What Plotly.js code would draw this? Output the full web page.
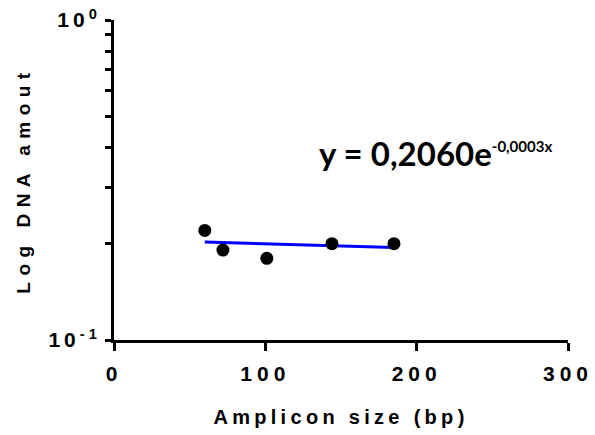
<!DOCTYPE html>
<html>
<head>
<meta charset="utf-8">
<script src="https://cdn.plot.ly/plotly-3.0.1.min.js"></script>
<style>
html,body{margin:0;padding:0;background:#fff;}
#chart{width:595px;height:435px;}
.xtitle{letter-spacing:4.3px !important;}
.ytitle{letter-spacing:6.5px !important;}
.xtick text{letter-spacing:5px !important;}
.ytick text{letter-spacing:4px !important;}
</style>
</head>
<body>
<div id="chart"></div>
<script>
// Data
const ampliconSize = [60, 72, 101, 144, 185];
const dnaAmount = [0.220, 0.191, 0.180, 0.200, 0.200];
const trendX = [60, 185];
const trendY = [0.2023, 0.1947];
const xTickVals = [0, 100, 200, 300];
const xTickText = ['0', '100', '200', '300'];
const yMajorVals = [0.1, 1];
const yMajorText = ['10<sup>-1</sup>', '10<sup>0</sup>'];
const yMinorVals = [0.2, 0.3, 0.4, 0.5, 0.6, 0.7, 0.8, 0.9];
const equationMain = 'y = 0,2060e';
const equationExp = '-0,0003x';

const font = 'Liberation Sans, Arial, sans-serif';

const traces = [
  {
    x: trendX, y: trendY, mode: 'lines', type: 'scatter',
    line: {color: '#0000ff', width: 3}, hoverinfo: 'skip', showlegend: false
  },
  {
    x: ampliconSize, y: dnaAmount, mode: 'markers', type: 'scatter',
    marker: {color: '#000', size: 13}, showlegend: false
  }
];

const yTickVals = yMajorVals.concat(yMinorVals);
const yTickText = yMajorText.concat(yMinorVals.map(() => ''));

const layout = {
  width: 595, height: 435,
  margin: {l: 114, r: 27, t: 20, b: 95},
  paper_bgcolor: '#fff', plot_bgcolor: '#fff',
  showlegend: false,
  font: {family: font, color: '#000', size: 20},
  xaxis: {
    range: [0, 300],
    tickvals: xTickVals, ticktext: xTickText,
    ticks: 'outside', ticklen: 8, tickwidth: 3, tickcolor: '#000',
    ticklabelstandoff: 5,
    showline: true, linewidth: 3, linecolor: '#000',
    showgrid: false, zeroline: false,
    tickfont: {size: 21, family: font, color: '#000', weight: 'bold'},
    title: {text: '<b>Amplicon size (bp)</b>', font: {size: 20, family: font}, standoff: 26}
  },
  yaxis: {
    type: 'log',
    range: [-1, 0],
    tickvals: yTickVals, ticktext: yTickText,
    ticks: 'outside', ticklen: 6, tickwidth: 3, tickcolor: '#000',
    showline: true, linewidth: 3, linecolor: '#000',
    showgrid: false, zeroline: false,
    tickfont: {size: 21, family: font, color: '#000', weight: 'bold'},
    title: {text: '<b>Log DNA amout</b>', font: {size: 19, family: font}, standoff: 13}
  },
  annotations: [{
    x: 134, y: -0.417, xref: 'x', yref: 'y',
    xanchor: 'left', yanchor: 'middle',
    text: '<b>' + equationMain + '<sup><span style="font-size:15px">' + equationExp + '</span></sup></b>',
    showarrow: false,
    font: {size: 33, family: 'Lato, Open Sans, sans-serif', color: '#000'}
  }]
};

Plotly.newPlot('chart', traces, layout, {displayModeBar: false, staticPlot: true});
</script>
</body>
</html>
